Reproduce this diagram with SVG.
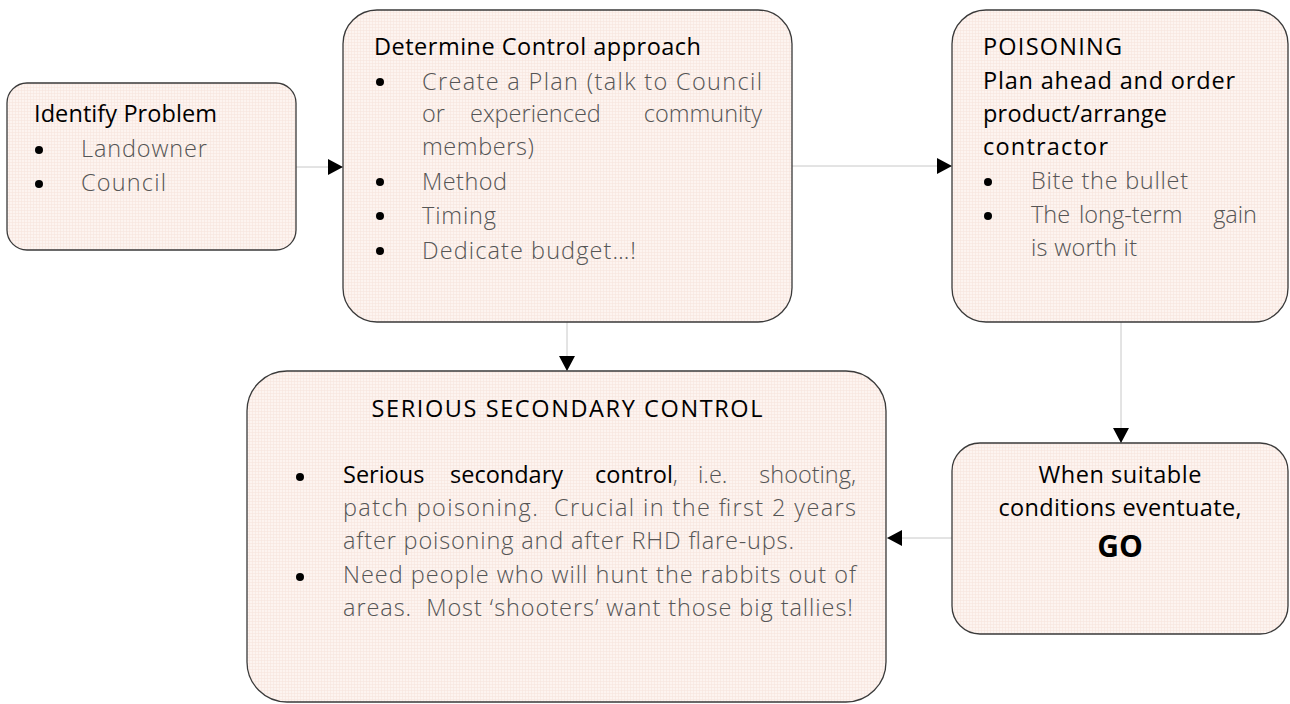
<svg xmlns="http://www.w3.org/2000/svg" width="1290" height="704" viewBox="0 0 1290 704">
<defs>
<pattern id="grid" width="3" height="3" patternUnits="userSpaceOnUse">
<rect width="3" height="3" fill="#fdf4f0"/>
<path d="M0 0.5H3M0.5 0V3" stroke="#f6e4de" stroke-width="0.6"/>
</pattern>
<marker id="arr" markerUnits="userSpaceOnUse" markerWidth="16" markerHeight="16" refX="15" refY="8" orient="auto">
<path d="M0,0 L15,8 L0,16 Z" fill="#000"/>
</marker>
</defs>
<style>
.box{fill:url(#grid);stroke:#3a3a3a;stroke-width:1.3}
.h{font-family:"Open Sans","Liberation Sans",sans-serif;font-weight:400;font-size:23.5px;fill:#000}
.b{font-family:"Open Sans","Liberation Sans",sans-serif;font-weight:300;font-size:23.5px;fill:#555}
.g{font-family:"Open Sans","Liberation Sans",sans-serif;font-weight:700;font-size:30px;fill:#000}
.d{fill:#000}
.c{stroke:#c8c8c8;stroke-width:1;fill:none;marker-end:url(#arr)}
</style>
<rect width="1290" height="704" fill="#fff"/>

<g id="connectors">
<path class="c" d="M296,167 H343"/>
<path class="c" d="M792,166 H952"/>
<path class="c" d="M567,322 V371"/>
<path class="c" d="M1121,322 V443"/>
<path class="c" d="M952,538 H887"/>
</g>

<g id="identify">
<rect class="box" x="7" y="83" width="289" height="167" rx="20"/>
<text class="h" x="34" y="122" textLength="183" lengthAdjust="spacing">Identify Problem</text>
<circle class="d" cx="39" cy="150" r="4"/>
<text class="b" x="81" y="157" textLength="126" lengthAdjust="spacing">Landowner</text>
<circle class="d" cx="39" cy="184" r="4"/>
<text class="b" x="81" y="191" textLength="85" lengthAdjust="spacing">Council</text>
</g>

<g id="determine">
<rect class="box" x="343" y="10" width="449" height="312" rx="34"/>
<text class="h" x="374" y="55" textLength="327" lengthAdjust="spacing">Determine Control approach</text>
<circle class="d" cx="380" cy="82" r="4"/>
<text class="b" x="422" y="90" textLength="340" lengthAdjust="spacing">Create a Plan (talk to Council</text>
<text class="b" x="422" y="122">or</text>
<text class="b" x="470" y="122">experienced</text>
<text class="b" x="762" y="122" text-anchor="end">community</text>
<text class="b" x="422" y="155" textLength="112" lengthAdjust="spacing">members)</text>
<circle class="d" cx="380" cy="182" r="4"/>
<text class="b" x="422" y="190" textLength="85" lengthAdjust="spacing">Method</text>
<circle class="d" cx="380" cy="216" r="4"/>
<text class="b" x="422" y="224" textLength="74" lengthAdjust="spacing">Timing</text>
<circle class="d" cx="380" cy="251" r="4"/>
<text class="b" x="422" y="259" textLength="214" lengthAdjust="spacing">Dedicate budget…!</text>
</g>

<g id="poisoning">
<rect class="box" x="952" y="10" width="336" height="312" rx="34"/>
<text class="h" x="983" y="55" textLength="139" lengthAdjust="spacing">POISONING</text>
<text class="h" x="983" y="89" textLength="252" lengthAdjust="spacing">Plan ahead and order</text>
<text class="h" x="983" y="122" textLength="184" lengthAdjust="spacing">product/arrange</text>
<text class="h" x="983" y="155" textLength="125" lengthAdjust="spacing">contractor</text>
<circle class="d" cx="988" cy="182" r="4"/>
<text class="b" x="1031" y="189" textLength="157" lengthAdjust="spacing">Bite the bullet</text>
<circle class="d" cx="988" cy="216" r="4"/>
<text class="b" x="1031" y="223">The</text>
<text class="b" x="1079" y="223">long-term</text>
<text class="b" x="1257" y="223" text-anchor="end">gain</text>
<text class="b" x="1031" y="256" textLength="106" lengthAdjust="spacing">is worth it</text>
</g>

<g id="secondary">
<rect class="box" x="247" y="371" width="639" height="331" rx="40"/>
<text class="h" x="567" y="417" text-anchor="middle" textLength="391" lengthAdjust="spacing">SERIOUS SECONDARY CONTROL</text>
<circle class="d" cx="300" cy="477" r="4"/>
<text class="h" x="343" y="483">Serious</text>
<text class="h" x="450" y="483">secondary</text>
<text class="h" x="595" y="483">control<tspan class="b">,</tspan></text>
<text class="b" x="698" y="483">i.e.</text>
<text class="b" x="856" y="483" text-anchor="end">shooting,</text>
<text class="b" x="343" y="516" textLength="513" lengthAdjust="spacing" xml:space="preserve">patch poisoning.  Crucial in the first 2 years</text>
<text class="b" x="343" y="549" textLength="451" lengthAdjust="spacing">after poisoning and after RHD flare-ups.</text>
<circle class="d" cx="300" cy="577" r="4"/>
<text class="b" x="343" y="583" textLength="513" lengthAdjust="spacing">Need people who will hunt the rabbits out of</text>
<text class="b" x="343" y="616" textLength="510" lengthAdjust="spacing" xml:space="preserve">areas.  Most ‘shooters’ want those big tallies!</text>
</g>

<g id="go">
<rect class="box" x="952" y="443" width="336" height="191" rx="28"/>
<text class="h" x="1120" y="483" text-anchor="middle" textLength="163" lengthAdjust="spacing">When suitable</text>
<text class="h" x="1120" y="516" text-anchor="middle" textLength="243" lengthAdjust="spacing">conditions eventuate,</text>
<text class="g" x="1120" y="557" text-anchor="middle">GO</text>
</g>
</svg>
